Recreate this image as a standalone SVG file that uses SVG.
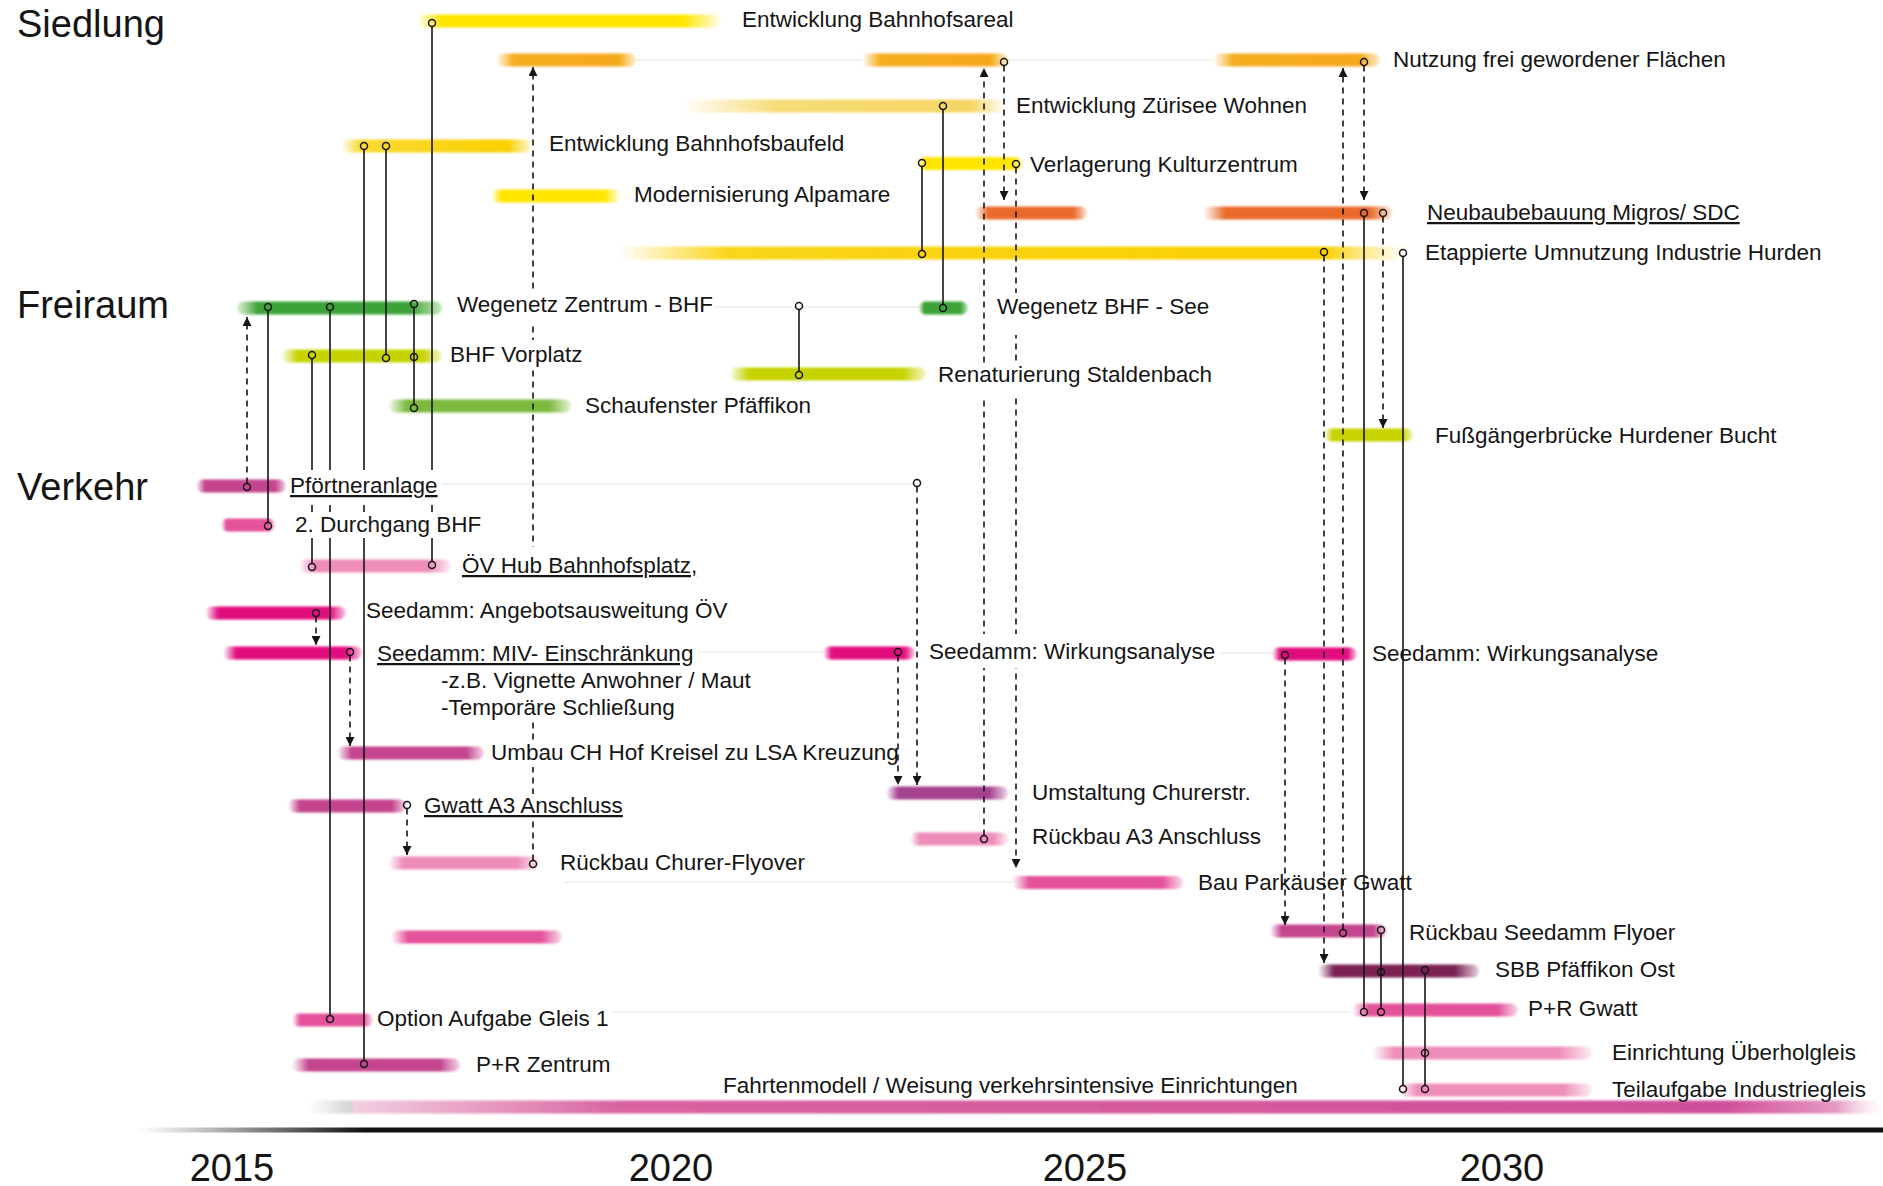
<svg xmlns="http://www.w3.org/2000/svg" width="1883" height="1186" viewBox="0 0 1883 1186">
<defs>
<style>
text{font-family:"Liberation Sans",Arial,sans-serif;fill:#151515}
.hdr{font-size:38px}
.lbl{font-size:22.5px}
.yr{font-size:38px;text-anchor:middle}
.u{text-decoration:underline}
.bar{filter:url(#soft)}
.sol{stroke:#151515;stroke-width:1.6;fill:none}
.dsh{stroke:#151515;stroke-width:1.6;fill:none;stroke-dasharray:6 5;marker-end:url(#ah)}
.mk{fill:none;stroke:#151515;stroke-width:1.5}
.faint{stroke:#eeeeee;stroke-width:1.5}
</style>
<marker id="ah" markerUnits="userSpaceOnUse" markerWidth="9" markerHeight="9" refX="9" refY="4.5" orient="auto"><path d="M0,0 L9,4.5 L0,9 Z" fill="#151515"/></marker>
<filter id="soft" x="-5%" y="-60%" width="110%" height="220%"><feGaussianBlur stdDeviation="1.1"/></filter>
<linearGradient id="g-yb"><stop offset="0" stop-color="#FFE600" stop-opacity="0"/><stop offset=".08" stop-color="#FFE600"/><stop offset=".88" stop-color="#FFE600"/><stop offset="1" stop-color="#FFE600" stop-opacity=".1"/></linearGradient>
<linearGradient id="g-yg"><stop offset="0" stop-color="#F9D000" stop-opacity="0"/><stop offset=".1" stop-color="#F9D000" stop-opacity=".8"/><stop offset=".88" stop-color="#F9D000"/><stop offset="1" stop-color="#F9D000" stop-opacity=".15"/></linearGradient>
<linearGradient id="g-et"><stop offset="0" stop-color="#F9D000" stop-opacity="0"/><stop offset=".14" stop-color="#F9D000" stop-opacity=".9"/><stop offset=".9" stop-color="#F9D000"/><stop offset=".95" stop-color="#FBE060" stop-opacity=".7"/><stop offset="1" stop-color="#FBE060" stop-opacity="0"/></linearGradient>
<linearGradient id="g-yp"><stop offset="0" stop-color="#F6D86A" stop-opacity="0"/><stop offset=".3" stop-color="#F6D86A" stop-opacity=".9"/><stop offset=".9" stop-color="#F5D562"/><stop offset="1" stop-color="#F6D86A" stop-opacity=".1"/></linearGradient>
<linearGradient id="g-or"><stop offset="0" stop-color="#F6AE20" stop-opacity="0"/><stop offset=".12" stop-color="#F6AE20"/><stop offset=".88" stop-color="#F4A91A"/><stop offset="1" stop-color="#F6AE20" stop-opacity=".2"/></linearGradient>
<linearGradient id="g-rr"><stop offset="0" stop-color="#E96B29" stop-opacity="0"/><stop offset=".12" stop-color="#E96B29"/><stop offset=".88" stop-color="#E96B29"/><stop offset="1" stop-color="#E96B29" stop-opacity=".2"/></linearGradient>
<linearGradient id="g-gr"><stop offset="0" stop-color="#5DB44A" stop-opacity=".2"/><stop offset=".1" stop-color="#3EA338"/><stop offset=".85" stop-color="#3EA338"/><stop offset="1" stop-color="#6CBD55" stop-opacity=".4"/></linearGradient>
<linearGradient id="g-ygr"><stop offset="0" stop-color="#C6D300" stop-opacity="0"/><stop offset=".1" stop-color="#C6D300"/><stop offset=".88" stop-color="#C6D300"/><stop offset="1" stop-color="#C6D300" stop-opacity=".2"/></linearGradient>
<linearGradient id="g-lg"><stop offset="0" stop-color="#7DB93C" stop-opacity="0"/><stop offset=".1" stop-color="#7DB93C"/><stop offset=".88" stop-color="#7DB93C"/><stop offset="1" stop-color="#7DB93C" stop-opacity=".2"/></linearGradient>
<linearGradient id="g-mg"><stop offset="0" stop-color="#E2077B" stop-opacity="0"/><stop offset=".1" stop-color="#E2077B"/><stop offset=".88" stop-color="#E2077B"/><stop offset="1" stop-color="#E2077B" stop-opacity=".2"/></linearGradient>
<linearGradient id="g-mv"><stop offset="0" stop-color="#C4448D" stop-opacity="0"/><stop offset=".1" stop-color="#C4448D"/><stop offset=".88" stop-color="#C4448D"/><stop offset="1" stop-color="#C4448D" stop-opacity=".2"/></linearGradient>
<linearGradient id="g-pk"><stop offset="0" stop-color="#E4529A" stop-opacity="0"/><stop offset=".1" stop-color="#E4529A"/><stop offset=".88" stop-color="#E4529A"/><stop offset="1" stop-color="#E4529A" stop-opacity=".2"/></linearGradient>
<linearGradient id="g-lp"><stop offset="0" stop-color="#EE8DBA" stop-opacity="0"/><stop offset=".1" stop-color="#EE8DBA"/><stop offset=".85" stop-color="#EE8DBA"/><stop offset="1" stop-color="#EE8DBA" stop-opacity=".15"/></linearGradient>
<linearGradient id="g-pu"><stop offset="0" stop-color="#A5438F" stop-opacity="0"/><stop offset=".1" stop-color="#A5438F"/><stop offset=".85" stop-color="#A5438F"/><stop offset="1" stop-color="#A5438F" stop-opacity=".2"/></linearGradient>
<linearGradient id="g-mr"><stop offset="0" stop-color="#7B2253" stop-opacity="0"/><stop offset=".1" stop-color="#7B2253"/><stop offset=".85" stop-color="#7B2253"/><stop offset="1" stop-color="#7B2253" stop-opacity=".2"/></linearGradient>
<linearGradient id="g-fm" gradientUnits="userSpaceOnUse" x1="308" y1="0" x2="1883" y2="0"><stop offset="0" stop-color="#c8c8c8" stop-opacity="0"/><stop offset=".028" stop-color="#c8c8c8" stop-opacity=".8"/><stop offset=".0286" stop-color="#F2CFE1"/><stop offset=".2" stop-color="#D8639F"/><stop offset=".9" stop-color="#D0509A"/><stop offset=".97" stop-color="#E598C2"/><stop offset="1" stop-color="#F2D0E2" stop-opacity="0"/></linearGradient>
<linearGradient id="g-ax" gradientUnits="userSpaceOnUse" x1="138" y1="0" x2="390" y2="0"><stop offset="0" stop-color="#aaa" stop-opacity="0"/><stop offset=".4" stop-color="#999"/><stop offset=".9" stop-color="#111"/></linearGradient>
<mask id="gaps" maskUnits="userSpaceOnUse" x="0" y="0" width="1883" height="1186">
<rect x="0" y="0" width="1883" height="1186" fill="#fff"/>
<g fill="#000">
<rect x="455" y="292" width="259" height="34"/>
<rect x="448" y="340" width="138" height="27"/>
<rect x="992" y="293" width="220" height="42"/>
<rect x="936" y="363" width="278" height="33"/>
<rect x="288" y="470" width="152" height="35"/>
<rect x="292" y="512" width="191" height="26"/>
<rect x="459" y="547" width="240" height="47"/>
<rect x="367" y="594" width="362" height="32"/>
<rect x="375" y="626" width="321" height="40"/>
<rect x="439" y="666" width="314" height="27"/>
<rect x="439" y="692" width="238" height="30"/>
<rect x="489" y="741" width="407" height="26"/>
<rect x="422" y="794" width="203" height="26"/>
<rect x="927" y="634" width="290" height="34"/>
</g>
</mask>
</defs>
<rect x="0" y="0" width="1883" height="1186" fill="#fff"/>

<g id="headers">
<text class="hdr" x="17" y="37">Siedlung</text>
<text class="hdr" x="17" y="318">Freiraum</text>
<text class="hdr" x="17" y="500">Verkehr</text>
</g>

<g id="axis">
<rect x="138" y="1127.5" width="1745" height="5" fill="url(#g-ax)"/>
<text class="yr" x="232" y="1181">2015</text>
<text class="yr" x="671" y="1181">2020</text>
<text class="yr" x="1085" y="1181">2025</text>
<text class="yr" x="1502" y="1181">2030</text>
</g>

<!-- Siedlung -->
<g id="n-bahnhofsareal"><rect class="bar" x="417" y="14.5" width="303" height="13" rx="6.5" fill="url(#g-yb)"/><circle class="mk" cx="432" cy="23" r="3.5"/><text class="lbl" x="742" y="27">Entwicklung Bahnhofsareal</text></g>
<g id="n-nutzung">
<line class="faint" x1="636" y1="60" x2="862" y2="60"/><line class="faint" x1="1008" y1="60" x2="1213" y2="60"/>
<rect class="bar" x="496" y="53.5" width="140" height="13" rx="6.5" fill="url(#g-or)"/>
<rect class="bar" x="862" y="53.5" width="146" height="13" rx="6.5" fill="url(#g-or)"/>
<rect class="bar" x="1213" y="53.5" width="167" height="13" rx="6.5" fill="url(#g-or)"/>
<circle class="mk" cx="1004" cy="62" r="3.5"/><circle class="mk" cx="1364" cy="62" r="3.5"/>
<text class="lbl" x="1393" y="67">Nutzung frei gewordener Flächen</text></g>
<g id="n-zuerisee"><rect class="bar" x="680" y="99.5" width="323" height="13" rx="6.5" fill="url(#g-yp)"/><circle class="mk" cx="943" cy="106" r="3.5"/><text class="lbl" x="1016" y="113">Entwicklung Zürisee Wohnen</text></g>
<g id="n-bahnhofsbaufeld"><rect class="bar" x="341" y="139.5" width="190" height="13" rx="6.5" fill="url(#g-yg)"/><circle class="mk" cx="364" cy="146" r="3.5"/><circle class="mk" cx="386" cy="146" r="3.5"/><text class="lbl" x="549" y="151">Entwicklung Bahnhofsbaufeld</text></g>
<g id="n-alpamare"><rect class="bar" x="491" y="189.5" width="129" height="13" rx="6.5" fill="url(#g-yb)"/><text class="lbl" x="634" y="202">Modernisierung Alpamare</text></g>
<g id="n-kulturzentrum"><rect class="bar" x="917" y="157" width="107" height="13" rx="6.5" fill="url(#g-yb)"/><circle class="mk" cx="922" cy="163" r="3.5"/><circle class="mk" cx="1016" cy="164" r="3.5"/><text class="lbl" x="1030" y="172">Verlagerung Kulturzentrum</text></g>
<g id="n-migros">
<rect class="bar" x="975" y="206.5" width="112" height="13" rx="6.5" fill="url(#g-rr)"/>
<rect class="bar" x="1203" y="206.5" width="189" height="13" rx="6.5" fill="url(#g-rr)"/>
<circle class="mk" cx="1364" cy="213" r="3.5"/><circle class="mk" cx="1383" cy="213" r="3.5"/>
<text class="lbl u" x="1427" y="220">Neubaubebauung Migros/ SDC</text></g>
<g id="n-hurden"><rect class="bar" x="618" y="246.5" width="787" height="13" rx="6.5" fill="url(#g-et)"/><circle class="mk" cx="922" cy="254" r="3.5"/><circle class="mk" cx="1324" cy="252" r="3.5"/><circle class="mk" cx="1403" cy="253" r="3.5"/><text class="lbl" x="1425" y="260">Etappierte Umnutzung Industrie Hurden</text></g>

<!-- Freiraum -->
<g id="n-wegenetz-zentrum"><rect class="bar" x="237" y="301.5" width="205" height="13" rx="6.5" fill="url(#g-gr)"/><circle class="mk" cx="268" cy="307" r="3.5"/><circle class="mk" cx="330" cy="307" r="3.5"/><circle class="mk" cx="414" cy="304" r="3.5"/><text class="lbl" x="457" y="312">Wegenetz Zentrum - BHF</text></g>
<g id="n-wegenetz-see"><line class="faint" x1="715" y1="307" x2="919" y2="307"/><circle class="mk" cx="799" cy="306" r="3.5"/><rect class="bar" x="919" y="301.5" width="49" height="13" rx="6.5" fill="url(#g-gr)"/><circle class="mk" cx="943" cy="308" r="3.5"/><text class="lbl" x="997" y="314">Wegenetz BHF - See</text></g>
<g id="n-vorplatz"><rect class="bar" x="281" y="349.5" width="161" height="13" rx="6.5" fill="url(#g-ygr)"/><circle class="mk" cx="312" cy="355" r="3.5"/><circle class="mk" cx="386" cy="358" r="3.5"/><circle class="mk" cx="414" cy="357" r="3.5"/><text class="lbl" x="450" y="362">BHF Vorplatz</text></g>
<g id="n-schaufenster"><rect class="bar" x="388" y="399.5" width="183" height="13" rx="6.5" fill="url(#g-lg)"/><circle class="mk" cx="414" cy="408" r="3.5"/><text class="lbl" x="585" y="413">Schaufenster Pfäffikon</text></g>
<g id="n-staldenbach"><rect class="bar" x="729" y="367.5" width="197" height="13" rx="6.5" fill="url(#g-ygr)"/><circle class="mk" cx="799" cy="375" r="3.5"/><text class="lbl" x="938" y="382">Renaturierung Staldenbach</text></g>
<g id="n-fussgaenger"><rect class="bar" x="1324" y="428.5" width="89" height="13" rx="6.5" fill="url(#g-ygr)"/><text class="lbl" x="1435" y="443">Fußgängerbrücke Hurdener Bucht</text></g>

<!-- Verkehr -->
<g id="n-pfoertner"><rect class="bar" x="196" y="479.5" width="90" height="13" rx="6.5" fill="url(#g-mv)"/><line class="faint" x1="442" y1="484" x2="917" y2="484"/><circle class="mk" cx="247" cy="487" r="3.5"/><circle class="mk" cx="917" cy="483" r="3.5"/><text class="lbl u" x="290" y="493">Pförtneranlage</text></g>
<g id="n-durchgang"><rect class="bar" x="221" y="518.5" width="54" height="13" rx="6.5" fill="url(#g-pk)"/><circle class="mk" cx="268" cy="526" r="3.5"/><text class="lbl" x="295" y="532">2. Durchgang BHF</text></g>
<g id="n-oevhub"><rect class="bar" x="299" y="559.5" width="152" height="13" rx="6.5" fill="url(#g-lp)"/><circle class="mk" cx="312" cy="567" r="3.5"/><circle class="mk" cx="432" cy="565" r="3.5"/><text class="lbl u" x="462" y="573">ÖV Hub Bahnhofsplatz,</text></g>
<g id="n-angebot"><rect class="bar" x="205" y="606.5" width="141" height="13" rx="6.5" fill="url(#g-mg)"/><circle class="mk" cx="316" cy="613" r="3.5"/><text class="lbl" x="366" y="618">Seedamm: Angebotsausweitung ÖV</text></g>
<g id="n-miv"><rect class="bar" x="223" y="646.5" width="139" height="13" rx="6.5" fill="url(#g-mg)"/><circle class="mk" cx="350" cy="652" r="3.5"/><text class="lbl u" x="377" y="661">Seedamm: MIV- Einschränkung</text><text class="lbl" x="441" y="688">-z.B. Vignette Anwohner / Maut</text><text class="lbl" x="441" y="715">-Temporäre Schließung</text></g>
<g id="n-chhof"><rect class="bar" x="337" y="746.5" width="147" height="13" rx="6.5" fill="url(#g-mv)"/><text class="lbl" x="491" y="760">Umbau CH Hof Kreisel zu LSA Kreuzung</text></g>
<g id="n-gwatt-a3"><rect class="bar" x="288" y="799.5" width="118" height="13" rx="6.5" fill="url(#g-mv)"/><circle class="mk" cx="407" cy="805" r="3.5"/><text class="lbl u" x="424" y="813">Gwatt A3 Anschluss</text></g>
<g id="n-churer-flyover"><rect class="bar" x="388" y="856.5" width="152" height="13" rx="6.5" fill="url(#g-lp)"/><circle class="mk" cx="533" cy="864" r="3.5"/><text class="lbl" x="560" y="870">Rückbau Churer-Flyover</text></g>
<g id="n-unbenannt"><rect class="bar" x="391" y="930.5" width="171" height="13" rx="6.5" fill="url(#g-pk)"/></g>
<g id="n-gleis1"><rect class="bar" x="292" y="1013.5" width="81" height="13" rx="6.5" fill="url(#g-pk)"/><line class="faint" x1="612" y1="1012" x2="1350" y2="1012"/><circle class="mk" cx="330" cy="1019" r="3.5"/><text class="lbl" x="377" y="1026">Option Aufgabe Gleis 1</text></g>
<g id="n-pr-zentrum"><rect class="bar" x="292" y="1058.5" width="168" height="13" rx="6.5" fill="url(#g-mv)"/><circle class="mk" cx="364" cy="1064" r="3.5"/><text class="lbl" x="476" y="1072">P+R Zentrum</text></g>
<g id="n-fahrtenmodell"><rect class="bar" x="308" y="1100.5" width="1575" height="13" rx="6.5" fill="url(#g-fm)"/><text class="lbl" x="723" y="1093">Fahrtenmodell / Weisung verkehrsintensive Einrichtungen</text></g>
<g id="n-wirkung1"><line class="faint" x1="700" y1="652" x2="823" y2="652"/><rect class="bar" x="823" y="646.5" width="92" height="13" rx="6.5" fill="url(#g-mg)"/><circle class="mk" cx="898" cy="652" r="3.5"/><text class="lbl" x="929" y="659">Seedamm: Wirkungsanalyse</text></g>
<g id="n-churerstr"><rect class="bar" x="886" y="786.5" width="122" height="13" rx="6.5" fill="url(#g-pu)"/><text class="lbl" x="1032" y="800">Umstaltung Churerstr.</text></g>
<g id="n-rueckbau-a3"><rect class="bar" x="910" y="832.5" width="98" height="13" rx="6.5" fill="url(#g-lp)"/><circle class="mk" cx="984" cy="839" r="3.5"/><text class="lbl" x="1032" y="844">Rückbau A3 Anschluss</text></g>
<g id="n-parkhaus"><line class="faint" x1="564" y1="882" x2="1012" y2="882"/><rect class="bar" x="1012" y="876" width="171" height="13" rx="6.5" fill="url(#g-pk)"/><text class="lbl" x="1198" y="890">Bau Parkäuser Gwatt</text></g>
<g id="n-wirkung2"><line class="faint" x1="1220" y1="653" x2="1272" y2="653"/><rect class="bar" x="1272" y="647.5" width="85" height="13" rx="6.5" fill="url(#g-mg)"/><circle class="mk" cx="1285" cy="655" r="3.5"/><text class="lbl" x="1372" y="661">Seedamm: Wirkungsanalyse</text></g>
<g id="n-seedamm-flyover"><rect class="bar" x="1270" y="924.5" width="117" height="13" rx="6.5" fill="url(#g-mv)"/><circle class="mk" cx="1343" cy="933" r="3.5"/><circle class="mk" cx="1381" cy="930" r="3.5"/><text class="lbl" x="1409" y="940">Rückbau Seedamm Flyoer</text></g>
<g id="n-sbb"><rect class="bar" x="1318" y="964.5" width="161" height="13" rx="6.5" fill="url(#g-mr)"/><circle class="mk" cx="1381" cy="972" r="3.5"/><circle class="mk" cx="1425" cy="970" r="3.5"/><text class="lbl" x="1495" y="977">SBB Pfäffikon Ost</text></g>
<g id="n-pr-gwatt"><rect class="bar" x="1352" y="1003.5" width="166" height="13" rx="6.5" fill="url(#g-pk)"/><circle class="mk" cx="1364" cy="1012" r="3.5"/><circle class="mk" cx="1381" cy="1012" r="3.5"/><text class="lbl" x="1528" y="1016">P+R Gwatt</text></g>
<g id="n-ueberholgleis"><rect class="bar" x="1372" y="1046.5" width="220" height="13" rx="6.5" fill="url(#g-lp)"/><circle class="mk" cx="1425" cy="1053" r="3.5"/><text class="lbl" x="1612" y="1060">Einrichtung Überholgleis</text></g>
<g id="n-industriegleis"><rect class="bar" x="1398" y="1083.5" width="194" height="13" rx="6.5" fill="url(#g-lp)"/><circle class="mk" cx="1403" cy="1089" r="3.5"/><circle class="mk" cx="1425" cy="1089" r="3.5"/><text class="lbl" x="1612" y="1097">Teilaufgabe Industriegleis</text></g>

<g id="connectors" mask="url(#gaps)">
<line class="sol" x1="432" y1="26.5" x2="432" y2="561.5"/>
<line class="sol" x1="364" y1="149.5" x2="364" y2="1060.5"/>
<line class="sol" x1="386" y1="149.5" x2="386" y2="354.5"/>
<line class="sol" x1="330" y1="310.5" x2="330" y2="1015.5"/>
<line class="sol" x1="268" y1="310.5" x2="268" y2="522.5"/>
<line class="sol" x1="312" y1="358.5" x2="312" y2="563.5"/>
<line class="sol" x1="414" y1="307.5" x2="414" y2="404.5"/>
<line class="sol" x1="922" y1="166.5" x2="922" y2="250.5"/>
<line class="sol" x1="943" y1="109.5" x2="943" y2="304.5"/>
<line class="sol" x1="799" y1="309.5" x2="799" y2="371.5"/>
<line class="sol" x1="1364" y1="216.5" x2="1364" y2="1008.5"/>
<line class="sol" x1="1403" y1="256.5" x2="1403" y2="1085.5"/>
<line class="sol" x1="1381" y1="933.5" x2="1381" y2="1008.5"/>
<line class="sol" x1="1425" y1="973.5" x2="1425" y2="1085.5"/>
<line class="dsh" x1="247" y1="483.5" x2="247" y2="317"/>
<line class="dsh" x1="533" y1="860.5" x2="533" y2="67"/>
<line class="dsh" x1="984" y1="835.5" x2="984" y2="68"/>
<line class="dsh" x1="1004" y1="65.5" x2="1004" y2="200"/>
<line class="dsh" x1="1016" y1="167.5" x2="1016" y2="868"/>
<line class="dsh" x1="917" y1="486.5" x2="917" y2="785"/>
<line class="dsh" x1="898" y1="655.5" x2="898" y2="785"/>
<line class="dsh" x1="316" y1="616.5" x2="316" y2="645"/>
<line class="dsh" x1="350" y1="655.5" x2="350" y2="746"/>
<line class="dsh" x1="407" y1="808.5" x2="407" y2="855"/>
<line class="dsh" x1="1343" y1="929.5" x2="1343" y2="68"/>
<line class="dsh" x1="1364" y1="65.5" x2="1364" y2="200"/>
<line class="dsh" x1="1383" y1="216.5" x2="1383" y2="428"/>
<line class="dsh" x1="1324" y1="255.5" x2="1324" y2="963"/>
<line class="dsh" x1="1285" y1="658.5" x2="1285" y2="925"/>
</g>
</svg>
